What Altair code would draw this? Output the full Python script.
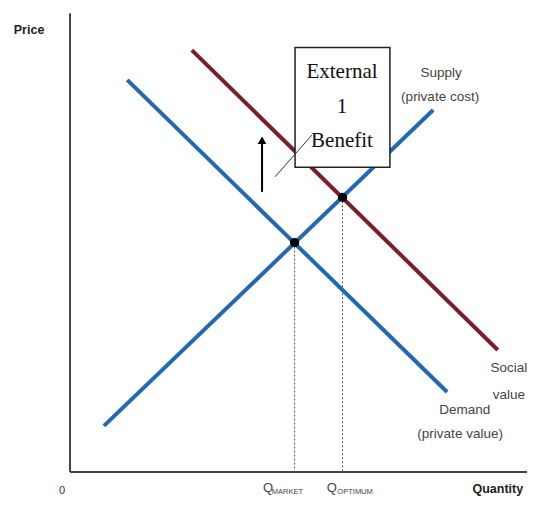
import altair as alt
import pandas as pd

# Curves (quantity, price) endpoints in chart units
curve_names = ["Demand", "Demand", "Supply", "Supply", "Social", "Social"]
curve_q = [12.3, 81.1, 7.3, 78.1, 26.2, 92.0]
curve_p = [85.8, 17.5, 10.1, 79.2, 92.3, 26.7]

# Equilibria
eq_names = ["Market", "Optimum"]
eq_q = [48.3, 58.6]
eq_p = [50.2, 60.1]

# Annotations
lab_text = ["Supply", "(private cost)", "Social", "value", "Demand", "(private value)"]
lab_q = [79.8, 79.6, 94.4, 94.4, 84.9, 83.9]
lab_p = [87.3, 82.1, 22.8, 16.8, 13.6, 8.3]

box_text = ["External", "1", "Benefit"]
box_q = [58.5, 58.5, 58.5]
box_p = [87.5, 79.9, 72.4]

XMAX = 98.28
X = alt.Scale(domain=[0, XMAX], nice=False, zero=False)
Y = alt.Scale(domain=[0, 100], nice=False, zero=False)

def xq(f="q"):
    return alt.X(f"{f}:Q", scale=X, axis=None)

def yp(f="p"):
    return alt.Y(f"{f}:Q", scale=Y, axis=None)

curves = pd.DataFrame({"name": curve_names, "q": curve_q, "p": curve_p})
eq = pd.DataFrame({"name": eq_names, "q": eq_q, "p": eq_p})
labs = pd.DataFrame({"t": lab_text, "q": lab_q, "p": lab_p})
boxt = pd.DataFrame({"t": box_text, "q": box_q, "p": box_p})

blue = "#2269b3"
red = "#7b1e2c"

# axes lines
axes_df = pd.DataFrame({"q": [0, 0], "p": [0, 0], "q2": [0, XMAX], "p2": [100.4, 0]})
axes = alt.Chart(axes_df).mark_rule(color="#444", strokeWidth=2).encode(
    x=xq(), y=yp(), x2="q2:Q", y2="p2:Q")

# dotted droplines
drop = alt.Chart(eq).mark_rule(color="#555", strokeWidth=1, strokeDash=[2, 2]).encode(
    x=xq(), y=yp(), y2=alt.datum(0))

lines = alt.Chart(curves).mark_line(strokeWidth=4).encode(
    x=xq(), y=yp(), detail="name:N",
    color=alt.Color("name:N", scale=alt.Scale(domain=["Demand", "Supply", "Social"],
                                               range=[blue, blue, red]), legend=None))

pts = alt.Chart(eq).mark_circle(color="black", size=85, opacity=1).encode(x=xq(), y=yp())

# arrow
arrow_df = pd.DataFrame({"q": [41.3], "p": [61.3], "p2": [72.6]})
shaft = alt.Chart(arrow_df).mark_rule(color="black", strokeWidth=2).encode(
    x=xq(), y=yp(), y2="p2:Q")
head = alt.Chart(arrow_df).mark_point(shape="triangle-up", filled=True, color="black",
                                      size=75, opacity=1).encode(x=xq(), y=alt.Y("p2:Q", scale=Y, axis=None))

# box
box_df = pd.DataFrame({"q": [48.4], "q2": [68.8], "p": [66.7], "p2": [92.9]})
box = alt.Chart(box_df).mark_rect(fill="white", stroke="#222", strokeWidth=1.5).encode(
    x=xq(), x2="q2:Q", y=yp(), y2="p2:Q")
leader_df = pd.DataFrame({"q": [44.1], "p": [64.6], "q2": [52.0], "p2": [73.7]})
leader = alt.Chart(leader_df).mark_rule(color="#333", strokeWidth=1).encode(
    x=xq(), y=yp(), x2="q2:Q", y2="p2:Q")
boxtxt = alt.Chart(boxt).mark_text(font="Liberation Serif", fontSize=21, color="#111",
                                   baseline="middle").encode(x=xq(), y=yp(), text="t:N")

labels = alt.Chart(labs).mark_text(font="Liberation Sans", fontSize=13.5, color="#444",
                                   baseline="middle").encode(x=xq(), y=yp(), text="t:N")

# axis titles
bold_df = pd.DataFrame({"t": ["Price", "Quantity"], "q": [-8.8, 92.0], "p": [96.7, -3.7]})
bold = alt.Chart(bold_df).mark_text(font="Liberation Sans", fontSize=12.5, fontWeight="bold",
                                    color="#222", baseline="middle").encode(x=xq(), y=yp(), text="t:N")
zero_df = pd.DataFrame({"t": ["0"], "q": [-1.7], "p": [-4.2]})
zero = alt.Chart(zero_df).mark_text(font="Liberation Sans", fontSize=11, color="#333",
                                    baseline="middle").encode(x=xq(), y=yp(), text="t:N")

q_df = pd.DataFrame({"t": ["Q", "Q"], "q": [42.6, 56.3], "p": [-3.5, -3.5]})
qs = alt.Chart(q_df).mark_text(font="Liberation Sans", fontSize=13, color="#444",
                               baseline="middle").encode(x=xq(), y=yp(), text="t:N")
sub_df = pd.DataFrame({"t": ["MARKET", "OPTIMUM"], "q": [43.4, 57.5], "p": [-4.4, -4.4]})
subs = alt.Chart(sub_df).mark_text(font="Liberation Sans", fontSize=7.5, color="#444",
                                   align="left", baseline="middle").encode(x=xq(), y=yp(), text="t:N")

chart = alt.layer(axes, drop, lines, pts, shaft, head, box, leader, boxtxt, labels,
                  bold, zero, qs, subs).properties(
    width=457, height=457,
    autosize=alt.AutoSizeParams(type="none"),
    padding={"left": 62, "top": 7, "right": 0, "bottom": 24},
).configure_view(stroke=None)

chart.save("out.html", embed_options={"renderer": "svg", "actions": False})
